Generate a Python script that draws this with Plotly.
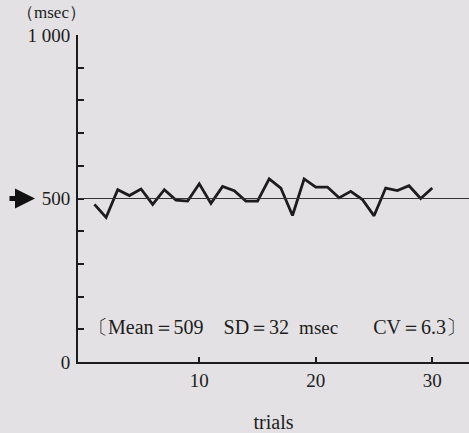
import plotly.graph_objects as go

trials = list(range(1, 31))
rt_msec = [482, 442, 527, 509, 529, 482, 527, 495, 492, 545,
           485, 537, 524, 492, 492, 560, 532, 448, 560, 535,
           535, 502, 522, 497, 447, 532, 524, 539, 500, 532]
ref_value = 500
y_tickvals = list(range(0, 1001, 100))
y_ticktext = ["0" if v == 0 else "500" if v == 500 else "1 000" if v == 1000 else "" for v in y_tickvals]
x_tickvals = [10, 20, 30]
stats_text = ("〔Mean＝509　SD＝32&nbsp;&nbsp;<span style='font-size:19px'>msec</span>"
              "　&nbsp;&nbsp;&nbsp;CV＝6.3〕")

SERIF = "Liberation Serif"
INK = "#1c1c1c"
fig = go.Figure()
fig.add_trace(go.Scatter(x=trials, y=rt_msec, mode="lines",
                         line=dict(color=INK, width=2.8), showlegend=False))
fig.add_shape(type="line", xref="paper", x0=0, x1=1, yref="y", y0=ref_value, y1=ref_value,
              line=dict(color="#333333", width=1.2))

fig.update_layout(
    width=469, height=433,
    margin=dict(l=78, r=0, t=35, b=68),
    paper_bgcolor="#e3e1e3", plot_bgcolor="#e3e1e3",
    font=dict(family=SERIF, color=INK, size=19),
    xaxis=dict(range=[-0.41, 33.15], tickvals=x_tickvals, ticks="inside", ticklen=5,
               tickcolor=INK, tickwidth=1.5, showline=True, linecolor=INK, linewidth=2,
               showgrid=False, zeroline=False, tickfont=dict(size=19, family=SERIF),
               title=dict(text="trials", font=dict(size=20, family=SERIF), standoff=28)),
    yaxis=dict(range=[0, 1000], tickvals=y_tickvals, ticktext=y_ticktext, ticks="inside",
               ticklen=6, tickcolor=INK, tickwidth=1.5, showline=True, linecolor=INK,
               linewidth=2, showgrid=False, zeroline=False,
               tickfont=dict(size=19, family=SERIF), ticklabelstandoff=2),
)
fig.add_annotation(xref="paper", yref="paper", x=-0.16, y=1.035, text="（msec）",
                   showarrow=False, xanchor="left", yanchor="bottom",
                   font=dict(size=17, family=SERIF))
fig.add_annotation(xref="paper", yref="y", x=-0.11, y=ref_value, text="",
                   showarrow=True, ax=-27, ay=0, axref="pixel", ayref="pixel",
                   arrowhead=2, arrowsize=0.8, arrowwidth=5, arrowcolor="#111")
fig.add_annotation(xref="x", yref="y", x=0.3, y=106, text=stats_text,
                   showarrow=False, xanchor="left", yanchor="middle",
                   font=dict(size=20, family=SERIF))
fig.write_html("out.html")
